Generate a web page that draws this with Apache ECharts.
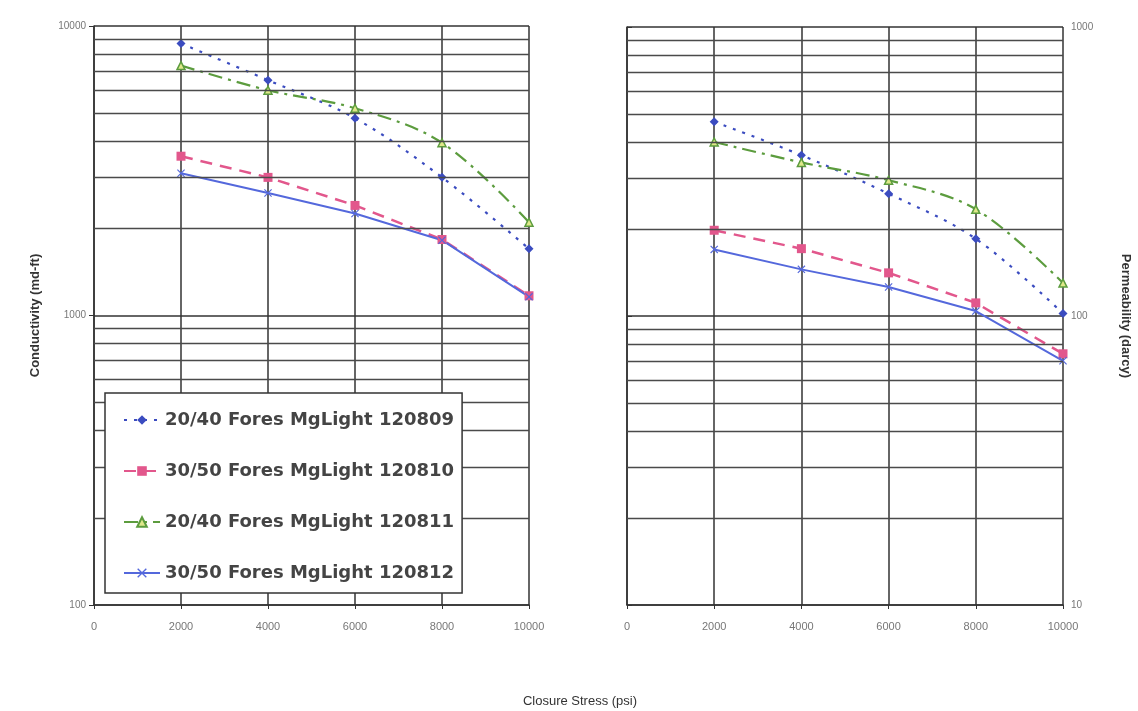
<!DOCTYPE html>
<html>
<head>
<meta charset="utf-8">
<script src="https://cdn.jsdelivr.net/npm/echarts@6/dist/echarts.min.js"></script>
<style>
  html, body { margin: 0; background: #fff; }
  #chart { width: 1138px; height: 711px; }
</style>
</head>
<body>
<div id="chart"></div>
<script>
// closure stress (psi)
var stress = [2000, 4000, 6000, 8000, 10000];
var names = [
  "20/40 Fores MgLight 120809",
  "30/50 Fores MgLight 120810",
  "20/40 Fores MgLight 120811",
  "30/50 Fores MgLight 120812"
];
// conductivity (md-ft)
var cond809 = [8700, 6500, 4800, 3000, 1700];
var cond810 = [3550, 3000, 2400, 1830, 1170];
var cond811 = [7300, 6000, 5200, 3950, 2100];
var cond812 = [3100, 2650, 2250, 1820, 1160];
// permeability (darcy)
var perm809 = [470, 360, 265, 185, 102];
var perm810 = [198, 171, 141, 111, 74];
var perm811 = [400, 340, 295, 234, 130];
var perm812 = [170, 145, 126, 104, 70];
// log grid lines between the decades
var condGrid = [200, 300, 400, 500, 600, 700, 800, 900, 2000, 3000, 4000, 5000, 6000, 7000, 8000, 9000];
var permGrid = [20, 30, 40, 50, 60, 70, 80, 90, 200, 300, 400, 500, 600, 700, 800, 900];

var styles = [
  { color: "#3b4cc0", type: [3, 7], width: 2.2, symbol: "diamond", size: 9, smooth: 0.35 },
  { color: "#e2578c", type: [12, 8], width: 2.5, symbol: "rect", size: 9, smooth: false },
  { color: "#5c9c3e", type: [14, 6, 3, 6], width: 2.2, symbol: "triangle", size: 8, smooth: 0.35, fill: "#dfe88a" },
  { color: "#5468dc", type: "solid", width: 2, symbol: "path://M0,1L1,0L5,4L9,0L10,1L6,5L10,9L9,10L5,6L1,10L0,9L4,5Z", size: 8, smooth: false }
];
var condData = [cond809, cond810, cond811, cond812];
var permData = [perm809, perm810, perm811, perm812];

function pairs(arr) {
  return stress.map(function (x, i) { return [x, arr[i]]; });
}

var series = [];
function gridSeries(idx, vals) {
  return {
    type: "line", data: [], xAxisIndex: idx, yAxisIndex: idx, z: 1, silent: true,
    markLine: {
      silent: true, symbol: ["none", "none"], label: { show: false }, animation: false,
      lineStyle: { color: "#4a4a4a", width: 1.3, type: "solid" },
      data: vals.map(function (v) { return { yAxis: v }; })
    }
  };
}
series.push(gridSeries(0, condGrid));
series.push(gridSeries(1, permGrid));

[condData, permData].forEach(function (set, g) {
  set.forEach(function (arr, i) {
    var s = styles[i];
    series.push({
      name: names[i],
      type: "line",
      xAxisIndex: g,
      yAxisIndex: g,
      z: 3,
      data: pairs(arr),
      smooth: s.smooth,
      symbol: s.symbol,
      symbolSize: s.size,
      showAllSymbol: true,
      lineStyle: { color: s.color, width: s.width, type: s.type },
      itemStyle: s.fill ? { color: s.fill, borderColor: s.color, borderWidth: 1.5 } : { color: s.color }
    });
  });
});

function plain(v) { return String(v); }

function xAxis(idx) {
  return {
    type: "value", gridIndex: idx, min: 0, max: 10000, interval: 2000,
    axisLine: { show: true, lineStyle: { color: "#333", width: 1.5 } },
    axisTick: { show: true, length: 4, lineStyle: { color: "#333" } },
    axisLabel: { color: "#777", fontSize: 11, margin: 16, fontFamily: "Liberation Sans", formatter: plain },
    splitLine: { show: true, lineStyle: { color: "#333", width: 1.5 } }
  };
}

var chart = echarts.init(document.getElementById("chart"));
chart.setOption({
  animation: false,
  backgroundColor: "#fff",
  title: {
    text: "Closure Stress (psi)", left: 575, top: 690, textAlign: "center",
    textStyle: { fontSize: 13, fontWeight: "normal", color: "#333", fontFamily: "Liberation Sans" }
  },
  legend: {
    data: names, orient: "vertical", left: 105, top: 393, z: 10,
    itemGap: 33, itemWidth: 36, itemHeight: 12,
    padding: [18, 8, 11, 18],
    backgroundColor: "#fff", borderColor: "#333", borderWidth: 1.5,
    textStyle: { fontSize: 18, fontWeight: "bold", color: "#444", fontFamily: "DejaVu Sans" }
  },
  grid: [
    { left: 94, top: 26, width: 435, height: 579 },
    { left: 627, top: 27, width: 436, height: 578 }
  ],
  xAxis: [xAxis(0), xAxis(1)],
  yAxis: [
    {
      type: "log", gridIndex: 0, logBase: 10, min: 100, max: 10000,
      name: "Conductivity (md-ft)", nameLocation: "middle", nameGap: 52,
      nameTextStyle: { fontSize: 13, fontWeight: "bold", color: "#333", fontFamily: "Liberation Sans" },
      axisLine: { show: true, lineStyle: { color: "#333", width: 1.5 } },
      axisTick: { show: true, length: 5, lineStyle: { color: "#333" } },
      axisLabel: { color: "#777", fontSize: 10, margin: 8, fontFamily: "Liberation Sans", formatter: plain },
      splitLine: { show: true, lineStyle: { color: "#333", width: 1.5 } }
    },
    {
      type: "log", gridIndex: 1, logBase: 10, min: 10, max: 1000, position: "right",
      name: "Permeability (darcy)", nameLocation: "middle", nameGap: 56, nameRotate: -90,
      nameTextStyle: { fontSize: 13, fontWeight: "bold", color: "#333", fontFamily: "Liberation Sans" },
      axisLine: { show: true, lineStyle: { color: "#333", width: 1.5 } },
      axisTick: { show: true, length: 5, lineStyle: { color: "#333" } },
      axisLabel: { color: "#777", fontSize: 10, margin: 8, fontFamily: "Liberation Sans", formatter: plain },
      splitLine: { show: true, lineStyle: { color: "#333", width: 1.5 } }
    }
  ],
  series: series
});
</script>
</body>
</html>
